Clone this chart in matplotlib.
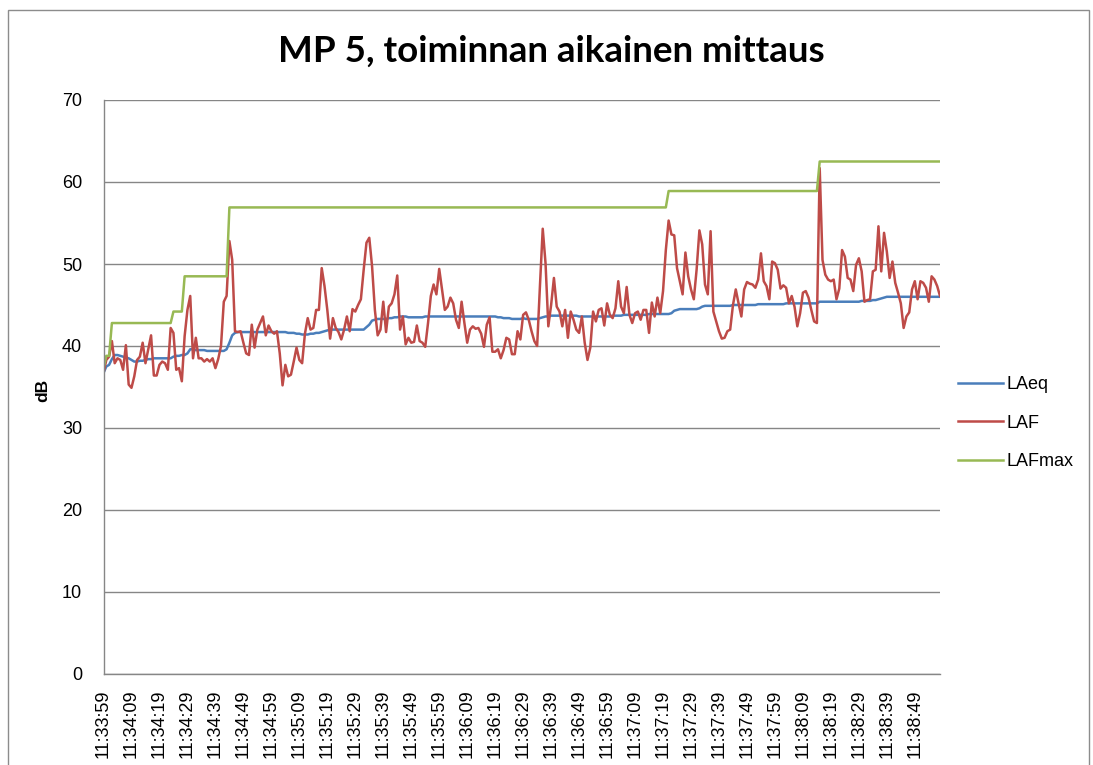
import matplotlib
matplotlib.use("Agg")
import matplotlib.pyplot as plt
import matplotlib.patches as mpatches
import numpy as np
import pandas as pd

TITLE = "MP 5, toiminnan aikainen mittaus"
START_TIME = "11:33:59"
Y_TICKS = [0, 10, 20, 30, 40, 50, 60, 70]

# LAF, one reading per second
laf = [
    36.7, 38.3, 38.7, 40.6, 37.9, 38.5, 38.3, 37.1, 40.1, 35.3,
    34.9, 36.3, 38.3, 38.7, 40.4, 37.9, 39.6, 41.3, 36.4, 36.4,
    37.7, 38.1, 37.9, 37.1, 42.2, 41.6, 37.1, 37.3, 35.7, 41.2,
    44.4, 46.1, 38.5, 41.0, 38.5, 38.5, 38.1, 38.4, 38.1, 38.5,
    37.3, 38.4, 40.0, 45.4, 46.1, 52.8, 50.5, 41.8, 41.7, 41.8,
    40.4,
    39.1, 38.9, 42.6, 39.8, 42.0, 42.8, 43.6, 41.3, 42.5, 41.8,
    41.5, 41.8, 39.1, 35.2, 37.7, 36.3, 36.5, 38.1, 39.8, 38.3,
    37.9, 41.5, 43.4, 42.0, 42.2, 44.4, 44.4, 49.5, 47.3, 44.4,
    40.9, 43.4, 42.2, 41.7, 40.8, 42.0, 43.6, 41.8, 44.5, 44.2,
    45.0, 45.7, 49.3, 52.6, 53.2, 49.7, 44.4, 41.3, 42.0, 45.4,
    41.7, 44.8, 45.2, 46.3, 48.6, 42.0, 43.6, 40.2, 41.0, 40.4,
    40.5, 42.5, 40.6, 40.4, 39.9, 42.8, 46.1, 47.5, 46.3, 49.4,
    46.9, 44.4, 44.8, 45.9, 45.2, 43.2, 42.2, 45.4, 42.8, 40.4,
    42.0, 42.4, 42.1, 42.2, 41.5, 39.9, 42.6, 43.5, 39.3, 39.3,
    39.6, 38.5, 39.5, 41.0, 40.8, 39.0, 39.0, 41.8, 40.8, 43.8,
    44.1, 43.2, 41.8, 40.6, 40.0, 47.3, 54.3, 50.1, 42.4, 45.0,
    48.3, 44.8, 44.2, 42.4, 44.4, 41.0, 44.2, 43.2, 42.0, 41.6,
    43.6, 40.4, 38.3, 39.8, 44.2, 43.0, 44.4, 44.6, 42.5, 45.2,
    43.8, 43.4, 44.6, 47.9, 44.8, 44.0, 47.2, 43.8, 42.8, 44.0,
    44.2, 43.2, 44.4, 44.4, 41.6, 45.3, 43.6, 45.9, 44.0, 46.7,
    51.7, 55.3, 53.6, 53.5, 49.5, 47.9, 46.3, 51.4, 48.5, 46.9,
    45.7, 49.3, 54.1, 52.4, 47.5, 46.3, 54.0, 44.2, 43.0, 41.8,
    40.9, 41.0, 41.8, 42.0, 45.0, 46.9, 45.2, 43.6, 46.9, 47.8,
    47.6, 47.5, 47.1, 48.1, 51.3, 47.9, 47.3, 45.7, 50.3, 50.1,
    49.3, 47.0, 47.4, 47.1, 45.2, 46.1, 44.8, 42.4, 44.0, 46.5,
    46.7, 45.9, 44.4, 43.0, 42.8, 61.7, 50.5, 48.7, 48.1, 47.9,
    48.1, 45.7, 47.0, 51.7, 50.9, 48.3, 48.1, 46.7, 49.9, 50.7,
    49.1, 45.4, 45.6, 45.7, 49.1, 49.3, 54.6, 49.1, 53.8, 51.5,
    48.3, 50.3, 47.7, 46.5, 45.2, 42.2, 43.6, 44.1, 46.9, 47.9,
    45.7, 47.9, 47.7, 47.1, 45.4, 48.5, 48.1, 47.3, 46.1,
]

laeq = [
    36.7, 37.5, 37.7, 38.4, 38.9, 38.9, 38.8, 38.7, 38.6, 38.5,
    38.3, 38.1, 38.1, 38.2, 38.2, 38.3, 38.4, 38.4, 38.5, 38.5,
    38.5, 38.5, 38.5, 38.5, 38.5, 38.7, 38.8, 38.8, 38.9, 38.9,
    39.1, 39.6, 39.6, 39.5, 39.5, 39.5, 39.5, 39.4, 39.4, 39.4,
    39.4, 39.4, 39.4, 39.4, 39.6, 40.4, 41.3, 41.6, 41.7, 41.7,
    41.7, 41.7, 41.7, 41.7, 41.7, 41.7, 41.7, 41.7, 41.7, 41.7,
    41.7, 41.7, 41.7, 41.7, 41.7, 41.7, 41.6, 41.6, 41.6, 41.5,
    41.5, 41.4, 41.4, 41.4, 41.5, 41.5, 41.6, 41.6, 41.7, 41.8,
    41.9, 42.0, 42.0, 42.0, 42.0, 42.0, 42.0, 42.0, 42.0, 42.0,
    42.0, 42.0, 42.0, 42.0, 42.3, 42.6, 43.1, 43.2, 43.3, 43.3,
    43.3, 43.3, 43.4, 43.4, 43.5, 43.5, 43.6, 43.6, 43.6, 43.5,
    43.5, 43.5, 43.5, 43.5, 43.5, 43.6, 43.6, 43.6, 43.6, 43.6,
    43.6, 43.6, 43.6, 43.6, 43.6, 43.6, 43.6, 43.6, 43.6, 43.6,
    43.6, 43.6, 43.6, 43.6, 43.6, 43.6, 43.6, 43.6, 43.6, 43.6,
    43.6, 43.5, 43.5, 43.4, 43.4, 43.4, 43.3, 43.3, 43.3, 43.3,
    43.4, 43.3, 43.3, 43.3, 43.3, 43.3, 43.4, 43.5, 43.6, 43.6,
    43.7, 43.7, 43.7, 43.7, 43.7, 43.7, 43.7, 43.7, 43.7, 43.7,
    43.6, 43.6, 43.6, 43.6, 43.6, 43.6, 43.6, 43.6, 43.6, 43.6,
    43.6, 43.6, 43.7, 43.7, 43.7, 43.7, 43.8, 43.8, 43.8, 43.8,
    43.8, 43.8, 43.8, 43.8, 43.8, 43.9, 43.9, 43.9, 43.9, 43.9,
    43.9, 43.9, 43.9, 44.0, 44.3, 44.4, 44.5, 44.5, 44.5, 44.5,
    44.5, 44.5, 44.5, 44.6, 44.8, 44.9, 44.9, 44.9, 44.9, 44.9,
    44.9, 44.9, 44.9, 44.9, 44.9, 45.0, 45.0, 45.0, 45.0, 45.0,
    45.0, 45.0, 45.0, 45.0, 45.1, 45.1, 45.1, 45.1, 45.1, 45.1,
    45.1, 45.1, 45.1, 45.1, 45.2, 45.2, 45.2, 45.2, 45.2, 45.2,
    45.2, 45.2, 45.2, 45.2, 45.2, 45.2, 45.4, 45.4, 45.4, 45.4,
    45.4, 45.4, 45.4, 45.4, 45.4, 45.4, 45.4, 45.4, 45.4, 45.4,
    45.4, 45.5, 45.5, 45.5, 45.5, 45.6, 45.6, 45.7, 45.8, 45.9,
    46.0, 46.0, 46.0, 46.0, 46.0, 46.0, 46.0, 46.0, 46.0, 46.0,
    46.0, 46.0, 46.0, 46.0, 46.0, 46.0, 46.0, 46.0, 46.0, 46.0,
]

# LAFmax is a staircase: level and how many seconds it holds
lafmax_levels = [37.3, 38.8, 42.8, 44.2, 48.5, 56.9, 58.9, 62.5]
lafmax_runs = [1, 2, 22, 4, 16, 157, 54, 44]
lafmax = np.repeat(lafmax_levels, lafmax_runs)

n = len(laf)
x = np.arange(n)
times = pd.date_range("2000-01-01 " + START_TIME, periods=n, freq="s")
time_labels = [t.strftime("%H:%M:%S") for t in times]

C_LAEQ = "#4A7EBB"
C_LAF = "#BE4B48"
C_MAX = "#98B954"
GRID = "#868686"
FONT = "Liberation Sans"

fig = plt.figure(figsize=(10.93, 7.65), dpi=100)
ax = fig.add_axes([103.5 / 1093, 1 - 674 / 765, (940 - 103.5) / 1093, (674 - 100) / 765])

ax.plot(x, laeq, color=C_LAEQ, lw=1.8, label="LAeq")
ax.plot(x, laf, color=C_LAF, lw=1.8, label="LAF")
ax.plot(x, lafmax, color=C_MAX, lw=1.8, label="LAFmax")

ax.set_xlim(0, n - 1)
ax.set_ylim(0, 70)
ax.set_yticks(Y_TICKS)
ax.set_yticklabels([str(v) for v in Y_TICKS], fontsize=13, family=FONT)
ticks = list(range(0, n, 10))
ax.set_xticks(ticks)
ax.set_xticklabels([time_labels[i] for i in ticks], rotation=90, fontsize=13, family=FONT)
ax.tick_params(axis="both", length=0)
ax.tick_params(axis="y", pad=15.5)
ax.tick_params(axis="x", pad=11)

ax.grid(axis="y", color=GRID, lw=1)
ax.set_axisbelow(True)
for side in ["top", "right"]:
    ax.spines[side].set_visible(False)
for side in ["left", "bottom"]:
    ax.spines[side].set_color(GRID)
    ax.spines[side].set_linewidth(1)

fig.text(43 / 1093, 1 - 390 / 765, "dB", rotation=90, fontsize=12.5, fontweight="bold",
         family=FONT, ha="center", va="center")
fig.text(551 / 1093, 1 - 51 / 765, TITLE, fontsize=26.5, fontweight="bold",
         family="Lato", ha="center", va="center")

handles = [
    plt.Line2D([], [], color=C_LAEQ, lw=1.8),
    plt.Line2D([], [], color=C_LAF, lw=1.8),
    plt.Line2D([], [], color=C_MAX, lw=1.8),
]
leg = fig.legend(handles, ["LAeq", "LAF", "LAFmax"], loc="center left",
                 bbox_to_anchor=(942 / 1093, 1 - 423 / 765), frameon=False,
                 prop={"family": FONT, "size": 13}, handlelength=2.5,
                 handletextpad=0.2, labelspacing=1.2)

# chart area border
fig.patches.append(mpatches.Rectangle((8 / 1093, -0.1), (1089 - 8) / 1093, 1.1 - 10 / 765,
                                      transform=fig.transFigure, fill=False,
                                      edgecolor="#8c8c8c", lw=1))

fig.savefig("out.png", dpi=100)
